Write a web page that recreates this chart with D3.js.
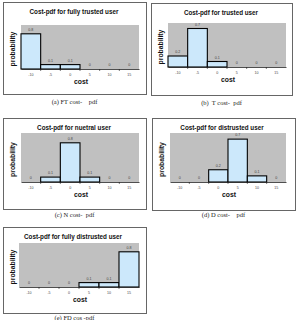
<!DOCTYPE html>
<html>
<head>
<meta charset="utf-8">
<script src="https://cdn.jsdelivr.net/npm/d3@7"></script>
<style>
  body { margin: 0; background: #fff; }
  svg { display: block; }
</style>
</head>
<body>
<svg id="chart" width="296" height="320"></svg>
<script>
// data
const costs = ['-10', '-5', '0', '5', '10', '15'];
const ftValues = [0.8, 0.1, 0.1, 0, 0, 0];
const tValues = [0.2, 0.7, 0.1, 0, 0, 0];
const nValues = [0, 0.1, 0.8, 0.1, 0, 0];
const dValues = [0, 0, 0.2, 0.7, 0.1, 0];
const fdValues = [0, 0, 0, 0.1, 0.1, 0.8];
const yMaxes = [1, 0.8, 1, 0.8, 1];
const titles = [
  'Cost-pdf for fully trusted user',
  'Cost-pdf for trusted user',
  'Cost-pdf for nuetral user',
  'Cost-pdf for distrusted user',
  'Cost-pdf for fully distrusted user',
];
const captions = [
  '(a) FT cost-\u00a0\u00a0\u00a0 pdf',
  '(b)\u00a0 T cost-\u00a0 pdf',
  '(c) N cost-\u00a0 pdf',
  '(d) D cost-\u00a0\u00a0\u00a0 pdf',
  '(e) FD cos -pdf',
];
const series = [ftValues, tValues, nValues, dValues, fdValues];

// panel layout (frame + plot area)
const panels = [
  { frame: [3, 2, 143, 92], plot: [21, 25, 139, 69], cap: 104 },
  { frame: [151, 3, 141, 92], plot: [168, 23, 286, 67], cap: 105 },
  { frame: [3, 118, 143, 91], plot: [21, 133, 139, 182], cap: 217 },
  { frame: [152, 118, 143, 92], plot: [170, 133, 286, 182], cap: 217 },
  { frame: [3, 227, 143, 86], plot: [19, 243, 139, 287], cap: 320 },
];

const svg = d3.select('#chart');

panels.forEach((p, i) => {
  const values = series[i];
  const [fx, fy, fw, fh] = p.frame;
  const [l, t, r, b] = p.plot;
  const g = svg.append('g');

  // outer frame
  g.append('rect')
    .attr('x', fx + 0.5).attr('y', fy + 0.5)
    .attr('width', fw).attr('height', fh)
    .attr('fill', '#fff')
    .attr('stroke', '#666')
    .attr('stroke-width', 1);

  const x = d3.scaleBand().domain(costs).range([l, r]).padding(0);
  const y = d3.scaleLinear().domain([0, yMaxes[i]]).range([b, t]);

  // plot area
  g.append('rect')
    .attr('x', l).attr('y', t)
    .attr('width', r - l).attr('height', b - t)
    .attr('fill', '#c0c0c0');

  // bars
  g.selectAll('.bar')
    .data(values.map((v, k) => ({ c: costs[k], v })).filter((d) => d.v > 0))
    .enter()
    .append('rect')
    .attr('class', 'bar')
    .attr('x', (d) => x(d.c))
    .attr('y', (d) => y(d.v))
    .attr('width', x.bandwidth())
    .attr('height', (d) => y(0) - y(d.v))
    .attr('fill', '#cce8fb')
    .attr('stroke', '#000')
    .attr('stroke-width', 1.1);

  // value labels
  g.selectAll('.val')
    .data(values.map((v, k) => ({ c: costs[k], v })))
    .enter()
    .append('text')
    .attr('x', (d) => x(d.c) + x.bandwidth() / 2)
    .attr('y', (d) => y(d.v) - 3)
    .attr('text-anchor', 'middle')
    .attr('font-family', 'Liberation Sans, Arial, sans-serif')
    .attr('font-size', 3.6)
    .attr('fill', '#444')
    .text((d) => String(d.v));

  // x axis
  const axis = g.append('g')
    .attr('transform', `translate(0,${b})`)
    .call(d3.axisBottom(x).tickSize(0).tickPadding(4));
  axis.select('.domain').attr('stroke', '#222').attr('stroke-width', 0.8);
  axis.selectAll('text')
    .attr('font-family', 'Liberation Sans, Arial, sans-serif')
    .attr('font-size', 3.6)
    .attr('fill', '#444');
  // tick marks at category edges
  g.selectAll('.edge')
    .data(costs.slice(1))
    .enter()
    .append('line')
    .attr('x1', (d) => x(d)).attr('x2', (d) => x(d))
    .attr('y1', b).attr('y2', b + 2)
    .attr('stroke', '#222')
    .attr('stroke-width', 0.6);

  // title
  g.append('text')
    .attr('x', (l + r) / 2 - 6)
    .attr('y', fy + 12)
    .attr('text-anchor', 'middle')
    .attr('font-family', 'Liberation Sans, Arial, sans-serif')
    .attr('font-weight', 'bold')
    .attr('font-size', 6.3)
    .attr('fill', '#111')
    .text(titles[i]);

  // y label
  g.append('text')
    .attr('transform', `translate(${fx + 12},${(t + b) / 2 + 2}) rotate(-90)`)
    .attr('text-anchor', 'middle')
    .attr('font-family', 'Liberation Sans, Arial, sans-serif')
    .attr('font-weight', 'bold')
    .attr('font-size', 6.8)
    .attr('fill', '#111')
    .text('probability');

  // x label
  g.append('text')
    .attr('x', (l + r) / 2 + 1)
    .attr('y', b + 15)
    .attr('text-anchor', 'middle')
    .attr('font-family', 'Liberation Sans, Arial, sans-serif')
    .attr('font-weight', 'bold')
    .attr('font-size', 6.8)
    .attr('fill', '#111')
    .text('cost');

  // caption
  svg.append('text')
    .attr('x', fx + fw / 2)
    .attr('y', p.cap)
    .attr('text-anchor', 'middle')
    .attr('font-family', 'Liberation Serif, Times New Roman, serif')
    .attr('font-size', 6.5)
    .attr('fill', '#222')
    .text(captions[i]);
});
</script>
</body>
</html>
